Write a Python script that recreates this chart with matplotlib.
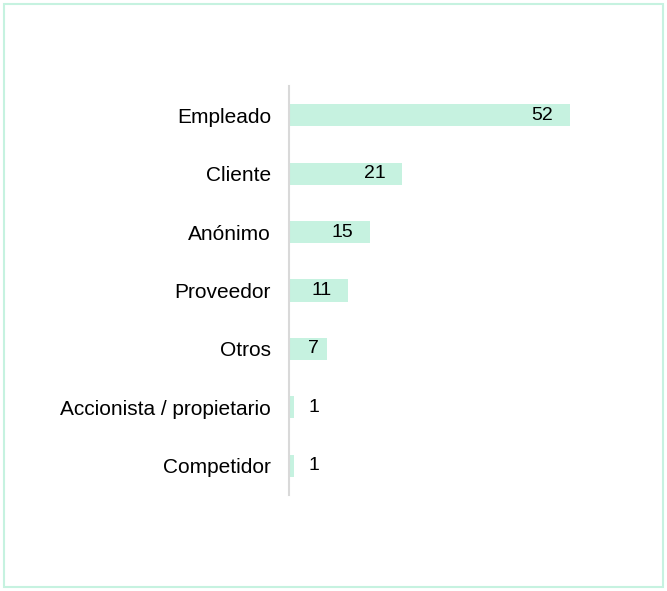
import matplotlib.pyplot as plt
from matplotlib.patches import Rectangle

plt.rcParams['font.family'] = ['Liberation Sans', 'DejaVu Sans']

categorias = ["Empleado", "Cliente", "Anónimo", "Proveedor", "Otros",
              "Accionista / propietario", "Competidor"]
valores = [52, 21, 15, 11, 7, 1, 1]

color_barra = '#c6f2e0'

fig = plt.figure(figsize=(6.67, 5.91), dpi=100)
ax = fig.add_axes([0.4333, 0.1624, 0.486, 0.6921])

y = list(range(len(categorias)))
ax.barh(y, valores, height=0.38, color=color_barra)
ax.set_ylim(len(categorias) - 0.5, -0.5)
ax.set_xlim(0, 60)
ax.set_yticks(y)
ax.set_yticklabels(categorias, fontsize=15)
ax.tick_params(axis='y', length=0, pad=13)
ax.set_xticks([])
for s in ['top', 'right', 'bottom']:
    ax.spines[s].set_visible(False)
ax.spines['left'].set_color('#d9d9d9')
ax.spines['left'].set_linewidth(1.5)

# etiquetas de datos
for yi, v in zip(y, valores):
    if v >= 10:
        ax.annotate(str(v), (v, yi), xytext=(-12, 0), textcoords='offset points',
                    ha='right', va='center', fontsize=14)
    elif v >= 5:
        ax.annotate(str(v), (v, yi), xytext=(-6, 0), textcoords='offset points',
                    ha='right', va='center', fontsize=14)
    else:
        ax.annotate(str(v), (v, yi), xytext=(10, 0), textcoords='offset points',
                    ha='left', va='center', fontsize=14)

fig.patches.append(Rectangle((4 / 667, 4 / 591), 659 / 667, 583 / 591,
                             transform=fig.transFigure, fill=False,
                             edgecolor=color_barra, linewidth=1.5))

fig.savefig('out.png', dpi=100)
